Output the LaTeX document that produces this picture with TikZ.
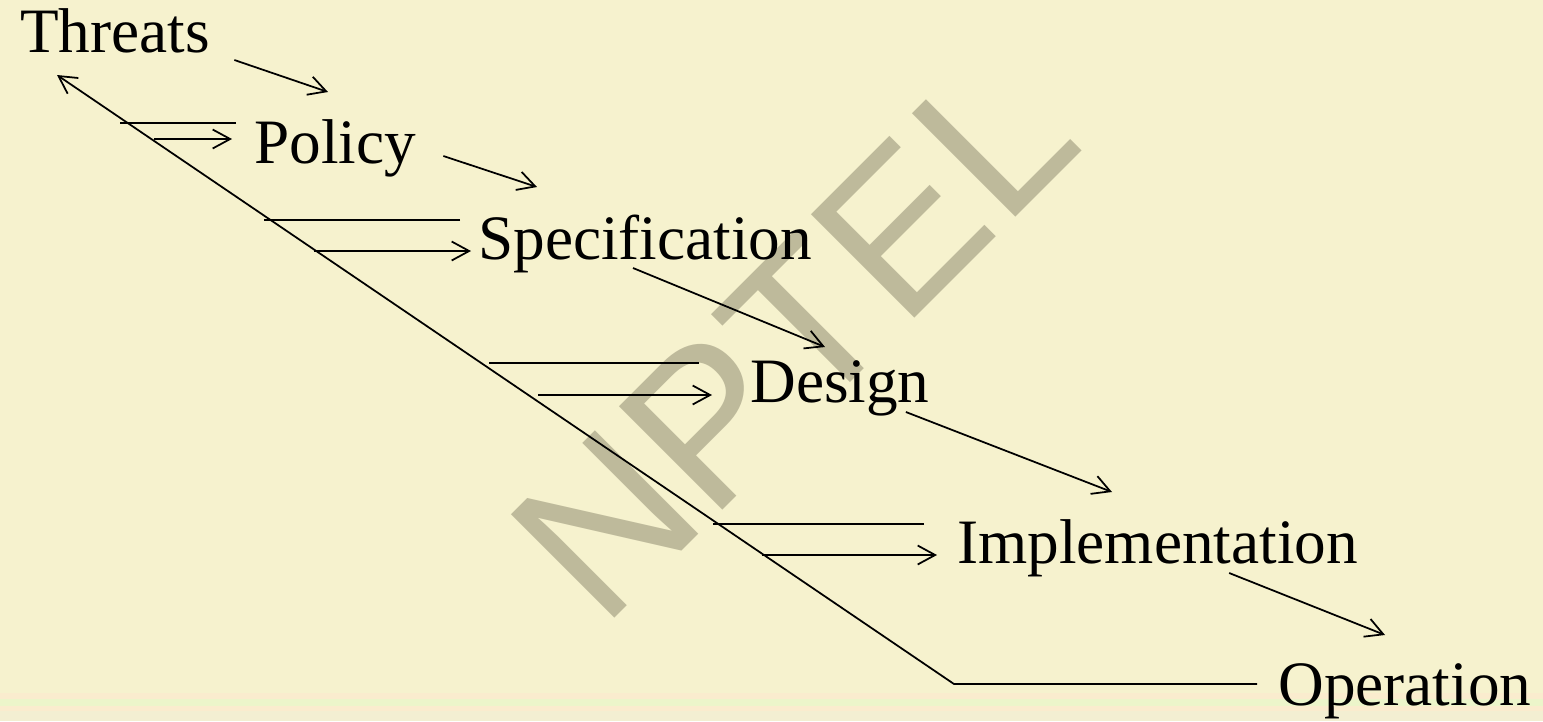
\documentclass[tikz,border=0pt]{standalone}
\usepackage{fontspec}
\setmainfont{Liberation Serif}
\newfontfamily\marksans{Liberation Sans}
\usepackage{xcolor}
\usepackage{tikz}
\usetikzlibrary{arrows.meta}
\definecolor{slidebg}{RGB}{246,242,206}
\definecolor{markgrey}{RGB}{190,186,155}
\definecolor{bandpink}{RGB}{250,236,206}
\definecolor{bandgreen}{RGB}{236,245,202}
\definecolor{bandpale}{RGB}{243,239,210}
\newcommand{\stagefont}{\fontsize{36}{43}\selectfont}
\tikzset{
  stage/.style     = {inner sep=0pt, anchor=base west, font=\stagefont, text=black},
  link/.style      = {line width=1pt, draw=black},
  flow/.style      = {-{Straight Barb[length=3.5mm, width=3.8mm]}, line width=1pt, draw=black},
  watermark/.style = {inner sep=0pt, anchor=base west, rotate=45, text=markgrey,
                      font=\marksans\fontsize{121}{145}\selectfont},
}

\begin{document}
\begin{tikzpicture}[x=0.02cm, y=-0.02cm]

% ---------- page ----------
\fill[slidebg] (0,0) rectangle (1543,721);
\fill[bandpink] (0,693) rectangle (1543,699);
\fill[bandgreen] (0,699) rectangle (1543,706);
\fill[bandpink] (0,706) rectangle (1543,711);
\fill[bandpale] (0,711) rectangle (1543,721);
\useasboundingbox (0,0) rectangle (1543,721);

% ---------- watermark ----------
\node[watermark] (mark) at (602,631) {NPTEL};

% ---------- stages ----------
\node[stage] (threats)   at (20,52)    {Threats};
\node[stage] (policy)    at (254,163)  {Policy};
\node[stage] (spec)      at (478,259)  {Specification};
\node[stage] (design)    at (750,402)  {Design};
\node[stage] (impl)      at (957,563)  {Implementation};
\node[stage] (operation) at (1278,705) {Operation};

% ---------- taps on the return line ----------
\coordinate (corner)     at (954,684);
\coordinate (policy-out) at (120,123);
\coordinate (policy-in)  at (154,139);
\coordinate (spec-out)   at (264,220);
\coordinate (spec-in)    at (314,251);
\coordinate (design-out) at (489,363);
\coordinate (design-in)  at (538,395);
\coordinate (impl-out)   at (713,524);
\coordinate (impl-in)    at (762,555);

% ---------- forward arrows ----------
\draw[flow] ([shift={(24,8)}]threats.base east) -- ([shift={(74,-71)}]policy.base west);
\draw[flow] ([shift={(27,-7)}]policy.base east) -- ([shift={(59,-72)}]spec.base west);
\draw[flow] ([shift={(155,9)}]spec.base west) -- ([shift={(75,-55)}]design.base west);
\draw[flow] ([shift={(-24,10)}]design.base east) -- ([shift={(155,-71)}]impl.base west);
\draw[flow] ([shift={(-129,10)}]impl.base east) -- ([shift={(107,-70)}]operation.base west);

% ---------- return line back to threats ----------
\draw[flow] ([shift={(-21,-21)}]operation.base west) -- (corner) -- ([shift={(37,23)}]threats.base west);

% ---------- feedback pairs ----------
\draw[link] ([shift={(-18,-40)}]policy.base west) -- (policy-out);
\draw[flow] (policy-in) -- ([shift={(-22,-24)}]policy.base west);
\draw[link] ([shift={(-18,-39)}]spec.base west) -- (spec-out);
\draw[flow] (spec-in) -- ([shift={(-7,-8)}]spec.base west);
\draw[link] ([shift={(-51,-39)}]design.base west) -- (design-out);
\draw[flow] (design-in) -- ([shift={(-38,-7)}]design.base west);
\draw[link] ([shift={(-33,-39)}]impl.base west) -- (impl-out);
\draw[flow] (impl-in) -- ([shift={(-20,-8)}]impl.base west);

\end{tikzpicture}
\end{document}
